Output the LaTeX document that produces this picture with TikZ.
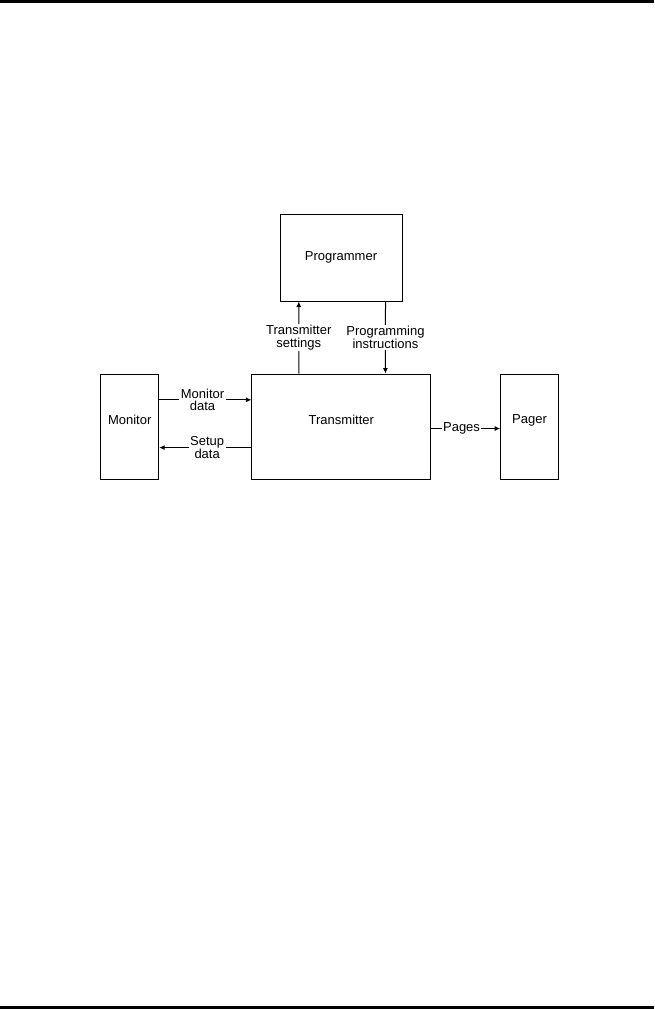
\documentclass[tikz,border=0pt]{standalone}
\usepackage{fontspec}
\setmainfont{Liberation Sans}
\usepackage{tikz}
\usetikzlibrary{arrows.meta,positioning}
\definecolor{barblack}{RGB}{0,0,0}
\tikzset{
  blk/.style={draw,line width=1pt,inner sep=0pt},
  flow/.style={line width=1pt,-{Latex[length=5.5pt,width=5pt]}},
  lbl/.style={fill=white,inner sep=1.5pt,align=center,font=\fontsize{13}{12.7}\selectfont}
}
\begin{document}
\begin{tikzpicture}[x=1pt,y=-1pt,font=\fontsize{13}{12.7}\selectfont]
  \useasboundingbox (0,0) rectangle (654,1009);
  \fill[barblack] (0,0) rectangle (654,3);
  \fill[barblack] (0,1006) rectangle (654,1009);
  \node[blk,minimum width=122pt,minimum height=87pt] (prog) at (341,257.5) {Programmer};
  \node[blk,minimum width=178.7pt,minimum height=105.3pt,label={[yshift=6.7pt]center:Transmitter}] (tx) at (341.3,426.7) {};
  \node[blk,minimum width=58pt,minimum height=105.3pt,label={[yshift=6.7pt]center:Monitor}] (mon) at (129.7,426.7) {};
  \node[blk,minimum width=57.6pt,minimum height=105.3pt,label={[yshift=6.7pt]center:Pager}] (pager) at (529.5,426.7) {};
  \draw[flow] ([xshift=47.3pt]tx.north west) -- node[lbl]{Transmitter\\settings} ([xshift=19.3pt]prog.south west);
  \draw[flow] ([xshift=106pt]prog.south west) -- node[lbl]{Programming\\instructions} ([xshift=134pt]tx.north west);
  \draw[flow] ([yshift=-26.3pt]mon.north east) -- node[lbl,pos=0.47]{Monitor\\data} ([yshift=-26.3pt]tx.north west);
  \draw[flow] ([yshift=-74pt]tx.north west) -- node[lbl,pos=0.48]{Setup\\data} ([yshift=-74pt]mon.north east);
  \draw[flow] ([yshift=-55pt]tx.north east) -- node[lbl,pos=0.44]{Pages} ([yshift=-55pt]pager.north west);
\end{tikzpicture}
\end{document}
